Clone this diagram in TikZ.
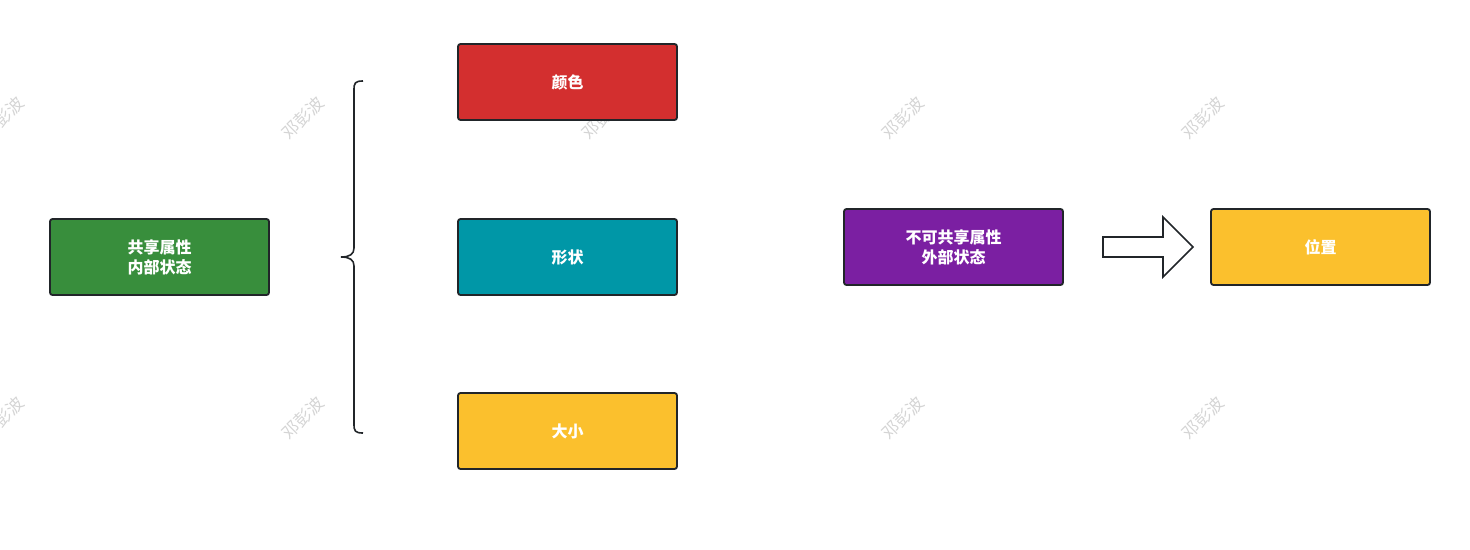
\documentclass[tikz,border=0pt]{standalone}
\usepackage{fontspec}
\newfontfamily\cjk{Noto Sans CJK SC}
\definecolor{bordc}{HTML}{212529}
\definecolor{cgreen}{HTML}{388E3C}
\definecolor{cred}{HTML}{D32F2F}
\definecolor{cteal}{HTML}{0097A7}
\definecolor{cyellow}{HTML}{FBC02D}
\definecolor{cpurple}{HTML}{7B1FA2}
\definecolor{wmc}{HTML}{D4D4D4}
\begin{document}
\begin{tikzpicture}[x=1pt,y=-1pt,
  box/.style={draw=bordc, line width=1.8pt, rounded corners=2.5pt, minimum width=219pt, minimum height=76pt, inner sep=0pt,
    text=white, font=\cjk\bfseries\fontsize{16}{20}\selectfont, align=center},
  wm/.style={text=wmc, rotate=45, font=\cjk\fontsize{17}{18}\selectfont}]
\useasboundingbox (0,0) rectangle (1470,549);
% watermarks
\foreach \x/\y [count=\i] in {3/118,303/118,603/118,903/118,1203/118,3/418,303/418,903/418,1203/418}
  \node[wm] (wm\i) at (\x,\y) {邓彭波};
% boxes
\node[box, fill=cgreen] (share) at (159.5,257) {共享属性\\内部状态};
\node[box, fill=cred] (color) at (567.5,82) {颜色};
\node[box, fill=cteal] (shape) at (567.5,257) {形状};
\node[box, fill=cyellow] (size) at (567.5,431) {大小};
\node[box, fill=cpurple] (ext) at (953.5,247) {不可共享属性\\外部状态};
\node[box, fill=cyellow] (pos) at (1320.5,247) {位置};
% brace
\coordinate (bt) at (363,81);
\coordinate (bb) at (363,433);
\coordinate (bm) at (341,257);
\draw[bordc, line width=1.6pt]
  (bt) .. controls (355,81) and (354,83) .. (354,90)
  -- (354,248) .. controls (354,254) and (350,257) .. (bm)
  .. controls (350,257) and (354,260) .. (354,266)
  -- (354,424) .. controls (354,431) and (355,433) .. (bb);
% block arrow
\coordinate (a1) at (1103,237);
\coordinate (a2) at (1163,237);
\coordinate (a3) at (1163,217);
\coordinate (a4) at (1193,247);
\coordinate (a5) at (1163,277);
\coordinate (a6) at (1163,257);
\coordinate (a7) at (1103,257);
\draw[bordc, fill=white, line width=1.6pt, line join=miter] (a1) -- (a2) -- (a3) -- (a4) -- (a5) -- (a6) -- (a7) -- cycle;
\end{tikzpicture}
\end{document}
